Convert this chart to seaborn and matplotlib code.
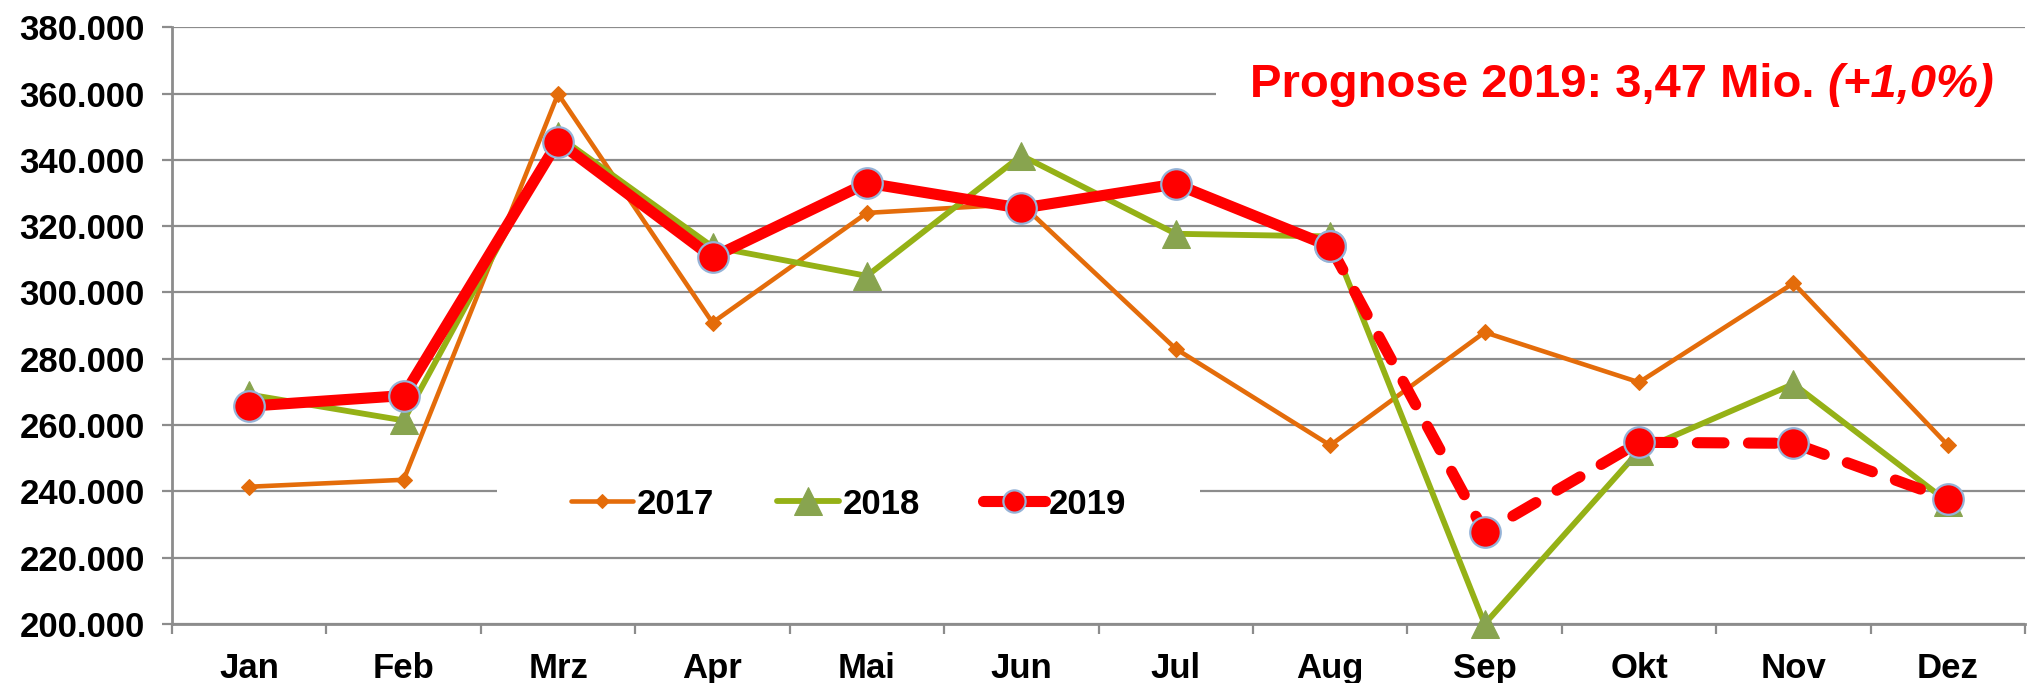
import numpy as np
import pandas as pd
import matplotlib
matplotlib.use("Agg")
import matplotlib.pyplot as plt
from matplotlib.patches import Rectangle
from matplotlib.ticker import FuncFormatter, FixedLocator
import seaborn as sns

months = ["Jan", "Feb", "Mrz", "Apr", "Mai", "Jun", "Jul", "Aug", "Sep", "Okt", "Nov", "Dez"]
v2017 = [241400, 243500, 359900, 290900, 324000, 326700, 283000, 253900, 288000, 272900, 302800, 253900]
v2018 = [269200, 261400, 347200, 313800, 305000, 341300, 317700, 316900, 200000, 252200, 272400, 236800]
v2019 = [265700, 268900, 345500, 310600, 333000, 325400, 332700, 313900, 227600, 254800, 254500, 237700]
last_actual = "Aug"
note = "Prognose 2019: 3,47 Mio. "
note_pct = "(+1,0%)"

c17 = "#E46C0A"
c18 = "#95B116"
c18_mark = "#88A44F"
c19 = "#FF0000"
c19_edge = "#95B3D7"
grid_c = "#8C8C8C"

sns.set_style("white")
plt.rcParams["font.family"] = ["Liberation Sans", "DejaVu Sans"]
plt.rcParams["font.weight"] = "bold"
plt.rcParams["text.color"] = "black"

pos = np.arange(len(months))
df = pd.DataFrame({"pos": pos, "month": months, "2017": v2017, "2018": v2018, "2019": v2019})
cut = months.index(last_actual)

fig = plt.figure(figsize=(20.31, 6.83), dpi=100)
ax = fig.add_axes([0.0847, 0.0864, 0.9124, 0.8737])

sns.lineplot(data=df, x="pos", y="2017", ax=ax, color=c17, linewidth=3.3,
             marker="D", markersize=8, markeredgecolor=c17, markerfacecolor=c17,
             label="2017", errorbar=None, sort=False, zorder=3)
sns.lineplot(data=df, x="pos", y="2018", ax=ax, color=c18, linewidth=4.2,
             marker="^", markersize=20, markeredgecolor=c18_mark, markerfacecolor=c18_mark,
             label="2018", errorbar=None, sort=False, zorder=4, clip_on=False)
sns.lineplot(data=df.iloc[cut:], x="pos", y="2019", ax=ax, color=c19, linewidth=8,
             marker="o", markersize=22, markerfacecolor=c19, markeredgecolor=c19_edge,
             markeredgewidth=1.6, errorbar=None, sort=False, zorder=5, legend=False)
dash_line = ax.lines[-1]
dash_line.set_linestyle((0, (2.4, 2.2)))
dash_line.set_dash_capstyle("round")
sns.lineplot(data=df.iloc[:cut + 1], x="pos", y="2019", ax=ax, color=c19, linewidth=8,
             marker="o", markersize=22, markerfacecolor=c19, markeredgecolor=c19_edge,
             markeredgewidth=1.6, label="2019", errorbar=None, sort=False, zorder=6)

ax.set_xlim(-0.5, len(months) - 0.5)
ax.set_ylim(200000, 380000)
ax.set_yticks(np.arange(200000, 380001, 20000))
ax.yaxis.set_major_formatter(FuncFormatter(lambda v, p: f"{v:,.0f}".replace(",", ".")))
ax.set_xticks(pos)
ax.set_xticklabels(months)
ax.xaxis.set_minor_locator(FixedLocator(np.arange(-0.5, len(months), 1.0)))
ax.set_xlabel("")
ax.set_ylabel("")

ax.grid(axis="y", color=grid_c, linewidth=1.6)
ax.set_axisbelow(True)
for s in ["top", "right"]:
    ax.spines[s].set_visible(False)
for s in ["left", "bottom"]:
    ax.spines[s].set_color(grid_c)
    ax.spines[s].set_linewidth(2)

ax.tick_params(axis="y", which="major", direction="out", length=7.5, width=1.6,
               color=grid_c, pad=12, labelsize=25, labelcolor="black", left=True)
ax.tick_params(axis="x", which="major", length=0, pad=20, labelsize=25, labelcolor="black")
ax.tick_params(axis="x", which="minor", direction="out", length=7, width=1.6,
               color=grid_c, bottom=True)
for lab in ax.get_xticklabels() + ax.get_yticklabels():
    lab.set_fontweight("bold")

handles, labels = ax.get_legend_handles_labels()
order = [labels.index(y) for y in ["2017", "2018", "2019"]]
leg = ax.legend([handles[i] for i in order], [labels[i] for i in order],
                ncol=3, loc="center", bbox_to_anchor=(0.365, 0.201), frameon=False,
                prop={"weight": "bold", "size": 25}, handlelength=1.8,
                handletextpad=0.1, columnspacing=1.8)
for h, ms in zip(leg.legend_handles, [7, 20, 16]):
    h.set_markersize(ms)
for t in leg.get_texts():
    t.set_color("black")
leg.set_zorder(9)

t1 = fig.text(1250 / 2031, 1 - 97 / 683, note, color=c19, fontsize=34,
              fontweight="bold", ha="left", va="baseline", zorder=10)
fig.canvas.draw()
bb1 = t1.get_window_extent()
t2 = fig.text(bb1.x1 / fig.bbox.width, 1 - 97 / 683, note_pct, color=c19, fontsize=34,
              fontweight="bold", style="italic", ha="left", va="baseline", zorder=10)
fig.canvas.draw()

# white boxes that hide the gridlines behind the note and the legend
ax.add_patch(Rectangle((bb1.x0 - 34, bb1.y0 - 8), ax.bbox.x1 - bb1.x0 + 34, bb1.height + 16,
                       transform=None, facecolor="white", edgecolor="none", zorder=1.5))
lb = leg.get_window_extent()
ax.add_patch(Rectangle((lb.x0 - 60, lb.y0 + 4), lb.width + 120, lb.height - 8,
                       transform=None, facecolor="white", edgecolor="none", zorder=1.5))

fig.savefig("out.png", dpi=100)
